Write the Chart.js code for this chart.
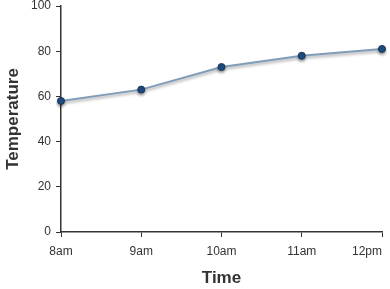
<!DOCTYPE html>
<html>
<head>
<meta charset="utf-8">
<script src="https://cdn.jsdelivr.net/npm/chart.js@4"></script>
<style>
  html, body { margin: 0; padding: 0; background: #fff; }
  canvas { display: block; }
</style>
</head>
<body>
<canvas id="tempChart" width="390" height="289"></canvas>
<script>
const timeLabels = ['8am', '9am', '10am', '11am', '12pm'];
const temperatures = [58, 63, 73, 78, 81];
const yTicks = [0, 20, 40, 60, 80, 100];

const axisColor = '#333';
const fontFamily = "'Liberation Sans', Arial, Helvetica, sans-serif";

// soft shadow under the line like the original
const lineShadow = {
    id: 'lineShadow',
    beforeDatasetDraw(chart) {
        const c = chart.ctx;
        c.save();
        c.shadowColor = 'rgba(0,0,0,0.35)';
        c.shadowBlur = 3;
        c.shadowOffsetY = 2;
    },
    afterDatasetDraw(chart) {
        chart.ctx.restore();
    }
};

// x labels: centered under ticks, last one right-aligned to its tick
const xLabels = {
    id: 'xLabels',
    afterDraw(chart) {
        const scale = chart.scales.x;
        const c = chart.ctx;
        c.save();
        c.font = '12px ' + fontFamily;
        c.fillStyle = axisColor;
        c.textBaseline = 'middle';
        timeLabels.forEach((lab, i) => {
            const x = scale.getPixelForTick(i);
            c.textAlign = i === timeLabels.length - 1 ? 'right' : 'center';
            c.fillText(lab, x, scale.top + 20);
        });
        c.restore();
    }
};

const ctx = document.getElementById('tempChart').getContext('2d');
const chart = new Chart(ctx, {
    type: 'line',
    data: {
        labels: timeLabels,
        datasets: [{
            data: temperatures,
            borderColor: '#7f9cb9',
            borderWidth: 2,
            tension: 0,
            fill: false,
            pointRadius: 3.5,
            pointBackgroundColor: '#1f4f86',
            pointBorderColor: '#1a3656',
            pointBorderWidth: 1
        }]
    },
    options: {
        responsive: false,
        animation: false,
        layout: { padding: { top: 6, right: 8, left: 0, bottom: 0 } },
        plugins: { legend: { display: false }, tooltip: { enabled: false } },
        scales: {
            x: {
                offset: false,
                grid: { drawOnChartArea: false, color: axisColor, tickLength: 5, tickColor: axisColor },
                border: { color: axisColor, width: 1.5 },
                ticks: { display: false },
                title: { display: true, text: 'Time', color: '#333', font: { family: fontFamily, size: 17, weight: 'bold' }, padding: { top: 0, bottom: 0 } },
                afterFit(scale) { scale.height = 57; scale.paddingLeft = 0; scale.paddingRight = 0; }
            },
            y: {
                min: 0,
                max: 100,
                afterBuildTicks(scale) { scale.ticks = yTicks.map(v => ({ value: v })); },
                grid: { drawOnChartArea: false, color: axisColor, tickLength: 5, tickColor: axisColor },
                border: { color: axisColor, width: 1.5 },
                ticks: { color: axisColor, padding: 5, font: { family: fontFamily, size: 12 } },
                title: { display: true, text: 'Temperature', color: '#333', font: { family: fontFamily, size: 17, weight: 'bold' }, padding: { top: 3, bottom: 0 } },
                afterFit(scale) { scale.width = 61; scale.paddingTop = 0; scale.paddingBottom = 0; }
            }
        }
    },
    plugins: [lineShadow, xLabels]
});
</script>
</body>
</html>
